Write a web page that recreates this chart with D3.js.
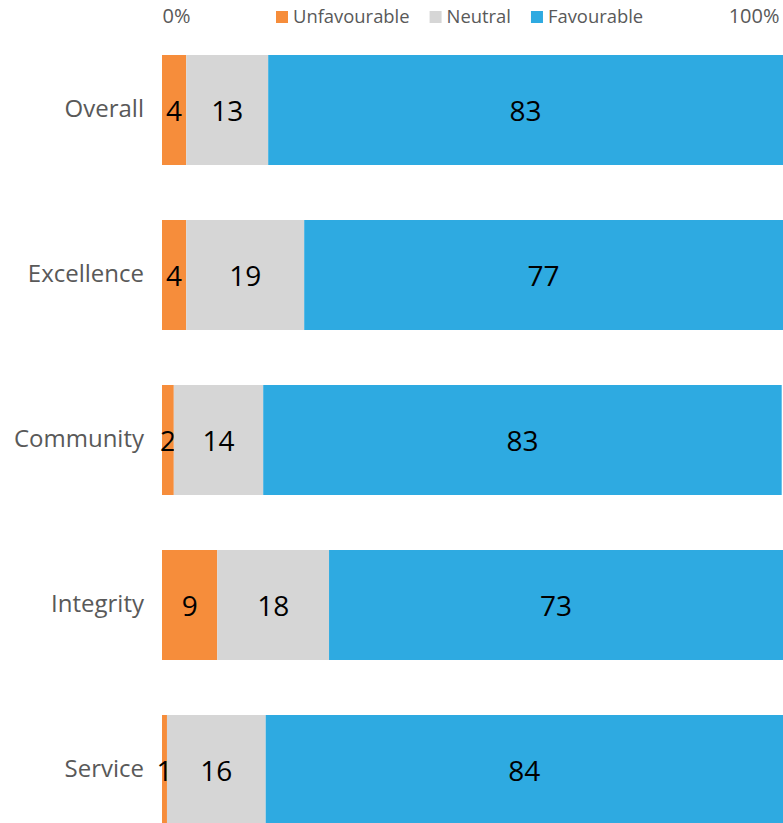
<!DOCTYPE html>
<html>
<head>
<meta charset="utf-8">
<script src="https://cdn.jsdelivr.net/npm/d3@7"></script>
<style>
  body { margin: 0; background: #fff; }
  svg { display: block; font-family: "Open Sans", sans-serif; }
</style>
</head>
<body>
<svg id="chart"></svg>
<script>
const categories = ["Overall", "Excellence", "Community", "Integrity", "Service"];
const seriesNames = ["Unfavourable", "Neutral", "Favourable"];
// percentages; labels show the rounded values
const unfavourable = [3.9, 3.9, 1.9, 8.9, 0.8];
const neutral = [13.2, 19.0, 14.4, 18.0, 15.9];
const favourable = [82.9, 77.1, 83.49, 73.1, 84.2];
const tickValues = [0, 100];

const colors = ["#f68d3b", "#d6d6d6", "#2eaae1"];

const width = 783;
const height = 823;
const marginLeft = 162;

const svg = d3.select("#chart")
    .attr("width", width)
    .attr("height", height);

const rows = categories.map(function(c, i) {
  return { cat: c, Unfavourable: unfavourable[i], Neutral: neutral[i], Favourable: favourable[i] };
});

const stack = d3.stack().keys(seriesNames);
const series = stack(rows);

const xScale = d3.scaleLinear()
    .domain([0, 100])
    .range([marginLeft, width]);

const yScale = d3.scaleBand()
    .domain(categories)
    .range([55, 825])
    .paddingInner(1 / 3)
    .paddingOuter(0);

// bars
const layers = svg.append("g")
  .selectAll("g")
  .data(series)
  .enter().append("g")
    .attr("fill", function(d, i) { return colors[i]; });

layers.selectAll("rect")
  .data(function(d) { return d; })
  .enter().append("rect")
    .attr("x", function(d) { return xScale(d[0]); })
    .attr("y", function(d) { return yScale(d.data.cat); })
    .attr("width", function(d) { return xScale(d[1]) - xScale(d[0]); })
    .attr("height", yScale.bandwidth());

// value labels
layers.selectAll("text")
  .data(function(d) { return d; })
  .enter().append("text")
    .attr("x", function(d) { return (xScale(d[0]) + Math.min(xScale(d[1]), width)) / 2; })
    .attr("y", function(d) { return yScale(d.data.cat) + yScale.bandwidth() / 2 + 1; })
    .attr("dy", "0.35em")
    .attr("text-anchor", "middle")
    .attr("fill", "#000")
    .style("font-size", "28px")
    .text(function(d) { return Math.round(d[1] - d[0]); });

// category axis
const yAxis = svg.append("g")
    .attr("transform", `translate(${marginLeft - 18}, 0)`)
    .call(d3.axisLeft(yScale).tickSize(0).tickPadding(0));
yAxis.select(".domain").remove();
yAxis.selectAll("text")
    .attr("fill", "#595959")
    .attr("dy", "0.3em")
    .style("font-size", "24px")
    .style("font-family", "'Open Sans', sans-serif");

// percent axis on top
const xAxis = svg.append("g")
    .attr("transform", "translate(0, 23)")
    .call(d3.axisTop(xScale).tickValues(tickValues).tickSize(0).tickPadding(0)
      .tickFormat(function(d) { return d + "%"; }));
xAxis.select(".domain").remove();
xAxis.selectAll("text")
    .attr("fill", "#595959")
    .attr("dy", "0")
    .attr("x", function(d) { return d === 0 ? 0 : -4; })
    .style("font-size", "20px")
    .style("font-family", "'Open Sans', sans-serif")
    .attr("text-anchor", function(d) { return d === 0 ? "start" : "end"; });

// legend
const legend = svg.append("g");
let lx = 276;
seriesNames.forEach(function(name, i) {
  legend.append("rect")
      .attr("x", lx)
      .attr("y", 11)
      .attr("width", 12)
      .attr("height", 12)
      .attr("fill", colors[i]);
  const t = legend.append("text")
      .attr("x", lx + 17)
      .attr("y", 23)
      .attr("fill", "#595959")
      .style("font-size", "18.4px")
      .text(name);
  lx += 17 + t.node().getComputedTextLength() + 20;
});
</script>
</body>
</html>
